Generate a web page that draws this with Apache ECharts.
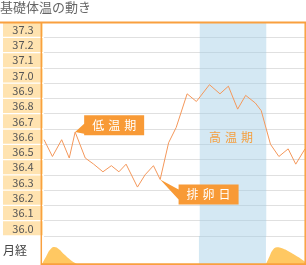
<!DOCTYPE html>
<html><head><meta charset="utf-8">
<script src="https://cdn.jsdelivr.net/npm/echarts/dist/echarts.min.js"></script>
<style>html,body{margin:0;padding:0;background:#fff}#c{width:306px;height:265px}</style>
</head><body><div id="c"></div>
<script>
const titleText = '基礎体温の動き';
const tempLabels = ['36.0','36.1','36.2','36.3','36.4','36.5','36.6','36.7','36.8','36.9','37.0','37.1','37.2','37.3'];
const days  = [0, 1.0, 2.1, 3.0, 3.7, 4.9, 5.9, 7.0, 8.0, 8.9, 9.75, 11.1, 12.0, 13.0, 13.8, 14.8, 15.7, 17.0, 18.1, 19.65, 20.9, 21.9, 23.0, 23.95, 25.1, 25.8, 26.9, 27.9, 29.0, 29.9, 31.0];
const temps = [36.58, 36.47, 36.58, 36.46, 36.63, 36.46, 36.42, 36.37, 36.41, 36.37, 36.42, 36.27, 36.35, 36.41, 36.32, 36.56, 36.66, 36.88, 36.83, 36.94, 36.88, 36.93, 36.78, 36.87, 36.82, 36.77, 36.55, 36.47, 36.52, 36.42, 36.52];
const mensLabel = '月経';
const mens1Days  = [0, 0.5, 1.0, 1.45, 2.0, 2.6, 3.2, 3.8, 4.1];
const mens1Level = [0, 2.8, 5.3, 6.1, 5.3, 3.5, 1.9, 0.5, 0];
const mens2Days  = [26.4, 26.8, 27.2, 27.7, 28.3, 29.2, 30.2, 31.0];
const mens2Level = [0, 2.6, 5.0, 6.0, 5.6, 4.3, 2.5, 0.8];
const highPeriod = [18.5, 26.4];
const highLabel = '高温期';
const lowLabel = '低温期';
const ovuLabel = '排卵日';
const lowIdx = 4;
const ovuIdx = 14;

const font = '"Noto Sans CJK JP", "Noto Sans", sans-serif';
const orange = '#f9a03f';
const boxColor = '#f89a36';
const lineColor = '#f4975a';
const bandColor = 'rgba(160,205,228,0.45)';
const spaced = (s, k) => s.split('').map(c => '{' + k + '|' + c + '}').join('');

const chart = echarts.init(document.getElementById('c'));
chart.setOption({
  animation: false,
  textStyle: { fontFamily: font },
  title: { text: titleText, left: 0, top: 1, padding: 0,
    textStyle: { fontSize: 13, fontWeight: 'normal', color: '#666', fontFamily: font } },
  grid: [
    { left: 41, right: 1, top: 22, height: 214 },
    { left: 41, right: 1, top: 236, bottom: 1 }
  ],
  xAxis: [
    { type: 'value', gridIndex: 0, min: 0, max: 31, show: false },
    { type: 'value', gridIndex: 1, min: 0, max: 31, show: false }
  ],
  yAxis: [
    { type: 'category', gridIndex: 0, data: tempLabels, boundaryGap: true,
      axisLine: { show: false }, axisTick: { show: false },
      axisLabel: { interval: 0, margin: 21, align: 'center', width: 40, height: 14, lineHeight: 14,
        backgroundColor: '#ffe3b0', color: '#555', fontSize: 11, fontFamily: font },
      splitLine: { show: true, lineStyle: { color: '#e0e0e0', width: 1 } } },
    { type: 'value', gridIndex: 0, min: 35.95, max: 37.35, show: false },
    { type: 'category', gridIndex: 1, data: [mensLabel],
      axisLine: { show: false }, axisTick: { show: false },
      axisLabel: { margin: 39, align: 'left', color: '#444', fontSize: 12, fontFamily: font },
      splitLine: { show: false } },
    { type: 'value', gridIndex: 1, min: 0, max: 10, show: false }
  ],
  series: [
    { type: 'line', xAxisIndex: 0, yAxisIndex: 1, symbol: 'none', z: 3,
      data: days.map((d, i) => [d, temps[i]]),
      lineStyle: { color: lineColor, width: 1 },
      markArea: { silent: true, itemStyle: { color: bandColor },
        label: { show: true, position: 'inside', offset: [-2, 8],
          formatter: spaced(highLabel, 'h'),
          rich: { h: { color: '#f5a040', fontSize: 12, padding: [0, 2], fontFamily: font } } },
        data: [[{ xAxis: highPeriod[0] }, { xAxis: highPeriod[1] }]] },
      markPoint: { silent: true, data: [
        { coord: [days[lowIdx], temps[lowIdx]],
          symbol: 'path://M0,16.7 L9,8.3 L9,0 L69,0 L69,20 L9,20 L9,18.3 Z',
          symbolSize: [69, 20], symbolOffset: [34.5, -6.7],
          itemStyle: { color: boxColor },
          label: { show: true, position: 'inside', offset: [4.5, 0],
            formatter: spaced(lowLabel, 'w'),
            rich: { w: { color: '#fff', fontSize: 12, padding: [0, 2], fontFamily: font } } } },
        { coord: [days[ovuIdx], temps[ovuIdx]],
          symbol: 'path://M0,0 L18.4,10 L18.4,5 L78.4,5 L78.4,25 L18.4,25 L18.4,20 Z',
          symbolSize: [78.4, 25], symbolOffset: [39.2, 12.5],
          itemStyle: { color: boxColor },
          label: { show: true, position: 'inside', offset: [9.2, 2.5],
            formatter: spaced(ovuLabel, 'w'),
            rich: { w: { color: '#fff', fontSize: 12, padding: [0, 2], fontFamily: font } } } }
      ] } },
    { type: 'line', xAxisIndex: 1, yAxisIndex: 3, symbol: 'none', smooth: true,
      data: mens1Days.map((d, i) => [d, mens1Level[i]]),
      lineStyle: { width: 0 }, areaStyle: { color: '#ffc862', opacity: 1 },
      markArea: { silent: true, itemStyle: { color: bandColor },
        data: [[{ xAxis: highPeriod[0] }, { xAxis: highPeriod[1] }]] } },
    { type: 'line', xAxisIndex: 1, yAxisIndex: 3, symbol: 'none', smooth: true,
      data: mens2Days.map((d, i) => [d, mens2Level[i]]),
      lineStyle: { width: 0 }, areaStyle: { color: '#ffc862', opacity: 1 } }
  ],
  graphic: [
    { type: 'line', z: 100, shape: { x1: 0, y1: 22.5, x2: 306, y2: 22.5 }, style: { stroke: orange, lineWidth: 2 } },
    { type: 'line', z: 100, shape: { x1: 41.3, y1: 22, x2: 41.3, y2: 265 }, style: { stroke: orange, lineWidth: 1.5 } },
    { type: 'line', z: 100, shape: { x1: 305.2, y1: 22, x2: 305.2, y2: 265 }, style: { stroke: orange, lineWidth: 1.5 } },
    { type: 'line', z: 100, shape: { x1: 41, y1: 264.2, x2: 306, y2: 264.2 }, style: { stroke: orange, lineWidth: 2 } }
  ]
});
</script>
</body></html>
